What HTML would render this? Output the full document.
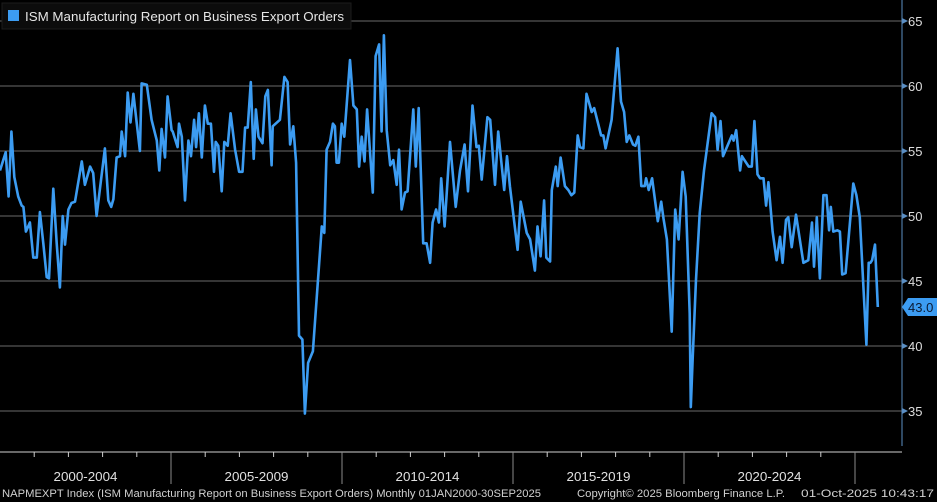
<!DOCTYPE html>
<html><head><meta charset="utf-8">
<style>
html,body{margin:0;padding:0;background:#000;}
svg{display:block;font-family:"Liberation Sans",sans-serif;}
</style></head>
<body>
<svg id="chart" width="937" height="502" viewBox="0 0 937 502">
  <rect x="0" y="0" width="937" height="502" fill="#000"/>
  <g id="grid"></g>
  <g id="yaxis"></g>
  <g id="xaxis"></g>
  <polyline id="line" fill="none" stroke="#3c9cf2" stroke-width="2.6" stroke-linejoin="round"/>
  <g>
    <rect x="2" y="3" width="349" height="26" fill="#0c0c0c" stroke="#1c1c1c"/>
    <rect x="8" y="10" width="11" height="11" fill="#3c9cf2"/>
    <text x="25" y="21" font-size="13" fill="#e6e6e6" textLength="319" lengthAdjust="spacingAndGlyphs">ISM Manufacturing Report on Business Export Orders</text>
  </g>
  <g id="lastTag"></g>
  <text x="2" y="497" font-size="11" fill="#d0d0d0" textLength="539" lengthAdjust="spacingAndGlyphs">NAPMEXPT Index (ISM Manufacturing Report on Business Export Orders) Monthly 01JAN2000-30SEP2025</text>
  <text x="577" y="497" font-size="11" fill="#d0d0d0" textLength="208" lengthAdjust="spacingAndGlyphs">Copyright© 2025 Bloomberg Finance L.P.</text>
  <text x="801" y="497" font-size="11" fill="#d0d0d0" textLength="133" lengthAdjust="spacingAndGlyphs">01-Oct-2025 10:43:17</text>
</svg>
<script>
// month index since Jan 2000
const months = [0,2,3,4,5,6.4,7.6,8.2,9.1,10.5,11.7,12.9,14,15.2,16.4,17.2,18.7,19.9,21,22,22.8,24,25.1,26.3,28.7,29.8,31.6,32.7,33.9,36.8,38,39,39.8,40.9,42.1,42.7,43.9,44.8,45.8,46.8,49.1,49.7,51.5,53.2,55,55.9,56.7,57.9,58.8,
60.2,60.6,62.3,62.8,63.8,64.9,66.1,67,68.1,68.8,69.8,70.8,71.9,72.9,74,75.1,75.7,76.6,77.8,78.7,79.9,80.9,82.5,83.9,85.1,86,86.9,88,89,89.8,90.7,92.1,93.1,94,95.3,95.7,98.2,99.8,100.9,101.8,102.9,103.9,104.9,106.1,107,108.1,109.8,112.9,113.8,114.6,115.8,116.8,
117.5,118.1,118.9,119.9,120.8,122.8,124,125.2,126,126.9,127.9,128.8,130.8,131.8,133,133.9,134.7,135.7,136.9,138,139.2,140,140.9,142.1,143,145,145.9,146.9,148.5,149.7,150.9,151.8,153,154,154.8,156,157.9,159.9,161.4,163,164.2,165.8,167.2,168,169,171,172,173.7,174.8,176.9,177.9,
178.9,181.6,182.7,184.8,186,187.7,188.6,189.7,190.9,191.7,193,193.6,195,195.7,196.7,198.2,199.4,200.5,201.5,202.7,203.5,204.7,205.8,207.6,208.5,210.9,211.7,212.5,214.6,216.7,217.9,219,219.9,220.8,222.1,222.9,224,225,226.2,226.7,227.6,228.8,230.8,232,232.8,234,235.7,236.9,238.1,
239.5,240.6,242,242.4,243,244.2,245.5,247,249.7,250.9,251.8,252.8,253.7,256.8,257.4,258.3,259.7,260.3,262.7,263.8,264.7,265.8,266.7,267.9,268.8,269.6,271.1,272.5,273.7,274.6,275.8,276.6,277.8,279.3,281.9,283.6,284.9,285.6,286.6,287.7,288.9,290,290.9,291.5,292.4,293.8,294.7,295.5,296.7,299.4,300.5,301.7,304,304.8,305.4,306,307,308];
const values = [53.5,54.9,51.5,56.5,53,51.5,50.8,50.7,48.8,49.5,46.8,46.8,50.3,47.9,45.3,45.2,52.1,47.9,44.5,50,47.8,50.5,51,51.1,54.2,52.4,53.8,53.3,50,55.2,51.2,50.7,51.3,54.5,54.6,56.5,54.6,59.5,57.2,59.4,55,60.2,60.1,57.4,55.8,53.5,56.7,54.5,59.2,
56.6,56.5,55.3,57.1,56.1,51.2,55.8,54.6,57.4,55.3,57.9,54.5,58.5,57.1,57.1,53.4,55.7,55.4,51.9,55.7,55.4,57.9,55.1,53.4,53.4,56.8,56.8,60.3,54.4,58.2,56.1,55.6,59.2,59.7,53.9,56.9,57.4,60.7,60.3,55.5,56.9,54.1,40.8,40.5,34.8,38.7,39.6,49.2,48.7,55.1,55.7,57.1,
56.9,54.1,54.1,57.1,56.1,62,58.5,58.2,53.8,56.1,54.2,58.2,51.8,62.3,63.2,56.5,63.9,56.6,53.9,54.3,52.4,55.1,50.5,51.8,51.9,58.2,53.8,58.3,47.9,47.9,46.4,49.5,50.5,49.5,52.9,49.2,55.7,50.7,53.5,55.5,51.9,58.5,55.3,55.4,52.8,57.6,57.4,52.4,56.5,52,54.6,
52.3,47.4,51.1,48.7,48.2,45.8,49.2,46.9,51.2,46.8,46.5,52,53.8,52.3,54.5,52.3,52,51.6,51.8,56.2,55.3,55.2,59.4,58,58.3,56.2,56.2,55.2,57.4,62.9,58.8,58,55.7,56.2,55.5,55.4,56.1,52.3,52.3,52.9,52,52.9,49.6,51.1,49.8,48.2,41.1,50.5,48.2,
53.4,51.5,42.5,35.3,38.9,45.1,50.2,53.5,57.9,57.6,55.1,57.3,54.6,56.2,55.8,56.6,53.5,54.6,53.8,53.8,57.3,53.2,52.9,52.9,50.8,52.6,48.8,46.6,48.4,46.4,49.7,49.9,47.6,50.1,46.4,46.6,49.5,46.1,49.9,45.2,51.6,51.6,48.9,50.7,48.8,48.9,48.8,45.5,45.6,52.5,51.6,49.9,40.1,46.4,46.4,46.6,47.8,43.0];
const yTicks = [35,40,45,50,55,60,65];
const periodLabels = ["2000-2004","2005-2009","2010-2014","2015-2019","2020-2024"];

const NS="http://www.w3.org/2000/svg";
const xOf = m => m*2.85;
const yOf = v => 86 + (60 - v)*13;
const axisX = 902;
function mk(tag, attrs, parent, txt){
  const e=document.createElementNS(NS,tag);
  for(const k in attrs) e.setAttribute(k,attrs[k]);
  if(txt!==undefined) e.textContent=txt;
  parent.appendChild(e); return e;
}
const grid=document.getElementById('grid'), ya=document.getElementById('yaxis'), xa=document.getElementById('xaxis');
mk('line',{x1:axisX,y1:0,x2:axisX,y2:446,stroke:'#5b8fc4','stroke-width':1},ya);
yTicks.forEach(t=>{
  const y=yOf(t);
  const g=mk('line',{x1:0,y1:y,x2:axisX,y2:y,stroke:'#6a6a6a','stroke-width':1},grid);
  
  
  mk('path',{d:`M${axisX} ${y-3}L${axisX+6} ${y}L${axisX} ${y+3}Z`,fill:'#5b8fc4'},ya);
  const lb=mk('text',{x:908,y:y+5,'font-size':13,fill:'#dcdcdc'},ya,String(t));
  
  
});
// x axis
mk('line',{x1:0,y1:452,x2:axisX,y2:452,stroke:'#cfcfcf','stroke-width':1},xa);
for(let yr=0; yr<=25; yr++){
  const x=xOf(yr*12);
  if(yr%5===0){ if(yr>0) mk('line',{x1:x,y1:452,x2:x,y2:484,stroke:'#8a8a8a','stroke-width':1},xa); }
  else mk('line',{x1:x,y1:452,x2:x,y2:457,stroke:'#cfcfcf','stroke-width':1},xa);
}
periodLabels.forEach((p,i)=>{
  const t=mk('text',{x:xOf(i*60+30),y:481,'font-size':13,fill:'#e0e0e0','text-anchor':'middle',textLength:64,lengthAdjust:'spacingAndGlyphs'},xa,p);
  
  
});
// line
document.getElementById('line').setAttribute('points', months.map((m,i)=>xOf(m).toFixed(1)+','+yOf(values[i]).toFixed(1)).join(' '));
// last value tag
const lv=values[values.length-1], ly=yOf(lv), tag=document.getElementById('lastTag');
mk('path',{d:`M${axisX} ${ly}L${axisX+6} ${ly-9}H937V${ly+9}H${axisX+6}Z`,fill:'#3c9cf2'},tag);
const tt=mk('text',{x:908,y:ly+5,'font-size':13,fill:'#0a1a33'},tag,lv.toFixed(1));


</script>
</body></html>
